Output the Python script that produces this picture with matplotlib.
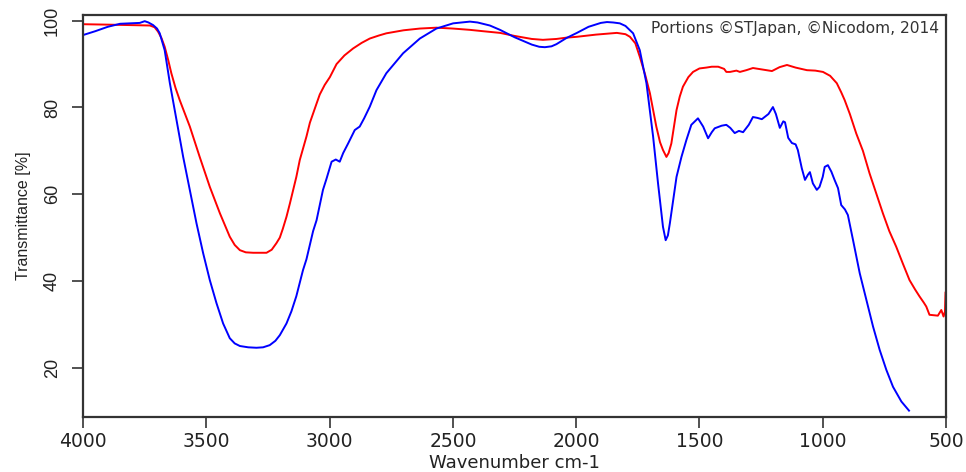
import numpy as np
import matplotlib.pyplot as plt

# --- data ---
blue_wn = [4000, 3950, 3900, 3850, 3811, 3770, 3750, 3735, 3716, 3700, 3689, 3669, 3648, 3621,
           3594, 3567, 3540, 3513, 3486, 3459, 3432, 3405, 3385, 3364, 3330, 3297, 3270, 3243,
           3220, 3202, 3175, 3155, 3135, 3108, 3094, 3067, 3053, 3027, 3013, 2992, 2975, 2959,
           2945, 2925, 2898, 2878, 2860, 2837, 2810, 2770, 2702, 2634, 2567, 2499, 2431, 2400,
           2350, 2309, 2250, 2180, 2150, 2127, 2100, 2080, 2040, 1997, 1950, 1900, 1875, 1850,
           1823, 1800, 1769, 1742, 1715, 1688, 1668, 1648, 1637, 1628, 1620, 1607, 1593, 1573,
           1553, 1533, 1506, 1485, 1465, 1450, 1438, 1410, 1391, 1375, 1357, 1340, 1323, 1300,
           1283, 1265, 1247, 1220, 1202, 1190, 1174, 1160, 1153, 1140, 1125, 1110, 1101, 1085,
           1072, 1060, 1052, 1040, 1024, 1013, 1000, 992, 979, 965, 952, 938, 925, 910, 898,
           877, 850, 823, 796, 769, 742, 715, 681, 650]
blue_t = [96.7, 97.6, 98.6, 99.3, 99.4, 99.5, 99.9, 99.6, 99.0, 98.2, 97.1, 93.2, 85.6, 77.1,
          68.6, 61.0, 53.3, 46.4, 40.2, 34.9, 30.2, 26.8, 25.6, 25.0, 24.7, 24.6, 24.7, 25.2,
          26.2, 27.5, 30.2, 33.0, 36.5, 42.5, 45.0, 51.5, 54.0, 61.0, 63.5, 67.5, 68.0, 67.5,
          69.5, 71.7, 74.8, 75.6, 77.5, 80.2, 84.0, 87.9, 92.5, 95.9, 98.2, 99.4, 99.8, 99.6,
          98.9, 97.9, 96.2, 94.5, 94.0, 93.9, 94.1, 94.6, 96.0, 97.2, 98.6, 99.5, 99.7, 99.6,
          99.4, 98.8, 97.1, 93.2, 85.6, 73.3, 62.5, 52.5, 49.4, 50.5, 53.3, 58.5, 64.0, 68.6,
          72.5, 76.0, 77.5, 75.6, 72.9, 74.3, 75.2, 75.8, 76.0, 75.3, 74.1, 74.6, 74.3, 76.0,
          77.8, 77.6, 77.3, 78.5, 80.1, 78.5, 75.3, 76.8, 76.6, 73.0, 71.8, 71.5, 70.2, 66.0,
          63.3, 64.5, 65.1, 62.5, 61.0, 61.7, 64.0, 66.3, 66.7, 65.2, 63.3, 61.4, 57.5, 56.5, 55.2,
          49.4, 41.8, 35.6, 29.5, 24.1, 19.5, 15.6, 12.2, 10.1]

red_wn = [4000, 3900, 3811, 3729, 3710, 3696, 3682, 3669, 3655, 3642, 3625, 3608, 3567, 3527,
          3486, 3445, 3405, 3385, 3364, 3340, 3310, 3256, 3235, 3216, 3202, 3190, 3175, 3161,
          3135, 3121, 3094, 3080, 3053, 3040, 3020, 2999, 2972, 2940, 2905, 2870, 2837, 2800,
          2770, 2700, 2634, 2567, 2500, 2431, 2380, 2309, 2250, 2180, 2135, 2080, 2040, 1997,
          1920, 1835, 1800, 1782, 1760, 1742, 1720, 1701, 1675, 1660, 1648, 1634, 1625, 1614,
          1593, 1580, 1567, 1545, 1526, 1500, 1472, 1450, 1424, 1400, 1391, 1376, 1350, 1336,
          1310, 1283, 1250, 1206, 1175, 1145, 1110, 1064, 1030, 999, 970, 943, 925, 911, 890,
          864, 837, 810, 783, 756, 730, 702, 675, 648, 625, 607, 590, 580, 567, 550, 533, 519,
          510, 504, 501, 500]
red_t = [99.2, 99.1, 99.0, 98.9, 98.5, 97.5, 96.0, 94.0, 91.0, 87.9, 84.5, 81.7, 75.6, 68.6,
         61.7, 55.6, 50.2, 48.3, 47.1, 46.6, 46.5, 46.5, 47.2, 48.7, 50.0, 52.0, 54.8, 57.9,
         64.0, 67.9, 73.3, 76.5, 80.9, 83.0, 85.2, 87.0, 90.0, 92.0, 93.6, 94.9, 95.9, 96.6,
         97.1, 97.8, 98.2, 98.4, 98.2, 97.9, 97.6, 97.2, 96.5, 95.8, 95.6, 95.8, 96.1, 96.3,
         96.8, 97.2, 96.9, 96.3, 94.8, 91.7, 87.5, 83.3, 75.6, 72.0, 70.2, 68.6, 69.5, 71.7,
         79.4, 82.5, 84.8, 87.0, 88.2, 89.0, 89.2, 89.4, 89.4, 88.9, 88.2, 88.2, 88.5, 88.2,
         88.6, 89.1, 88.8, 88.4, 89.3, 89.8, 89.2, 88.6, 88.5, 88.2, 87.3, 85.6, 83.5, 81.7, 78.5,
         74.0, 70.0, 64.8, 60.2, 55.6, 51.5, 47.9, 44.0, 40.2, 38.0, 36.4, 35.0, 34.1, 32.2, 32.1, 32.0, 33.3,
         31.8, 33.0, 37.5, 30.2]

x_ticks = [4000, 3500, 3000, 2500, 2000, 1500, 1000, 500]
y_ticks = [20, 40, 60, 80, 100]

plt.rcParams['font.family'] = ['Liberation Sans', 'DejaVu Sans']
narrow = ['Liberation Sans Narrow', 'Liberation Sans', 'DejaVu Sans']
wide = ['DejaVu Sans']

fig = plt.figure(figsize=(9.66, 4.72), dpi=100)
ax = fig.add_axes([0.086, 0.1165, 0.8933, 0.8515])

ax.plot(red_wn, red_t, color='#FF0000', lw=1.4)
ax.plot(blue_wn, blue_t, color='#0000FF', lw=1.4)

ax.set_xlim(4000, 500)
ax.set_ylim(8.63, 101.3)
ax.set_xticks(x_ticks)
ax.set_yticks(y_ticks)
ax.set_xticklabels([str(v) for v in x_ticks], fontsize=13.5, color='#222222', family=wide)
ax.set_yticklabels([str(v) for v in y_ticks], fontsize=13, color='#222222', family=narrow,
                   rotation=90, va='center')
ax.tick_params(axis='x', direction='out', length=8, width=1.2, color='#333333', pad=3)
ax.tick_params(axis='y', direction='out', length=8, width=1.2, color='#333333', pad=8)

for sp in ax.spines.values():
    sp.set_linewidth(1.6)
    sp.set_color('#333333')

ax.set_xlabel("Wavenumber cm-1", fontsize=13, color='#222222', family=wide, labelpad=2)
ax.set_ylabel("Transmittance [%]", fontsize=11.5, color='#222222', family=narrow, labelpad=9)

ax.text(0.992, 0.985, "Portions ©STJapan, ©Nicodom, 2014", transform=ax.transAxes,
        ha='right', va='top', fontsize=11.2, color='#333333', family=wide)

fig.savefig("out.png", dpi=100)
